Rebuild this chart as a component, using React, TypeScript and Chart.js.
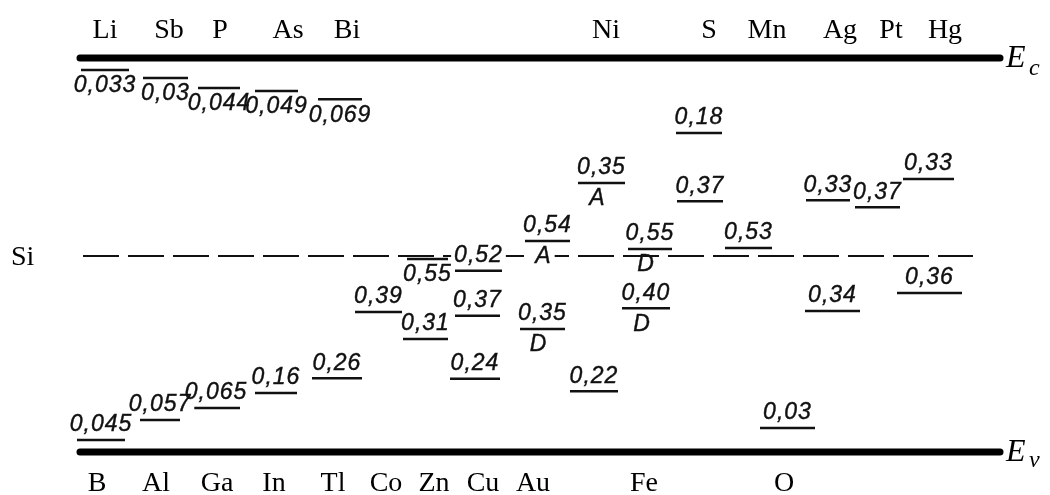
import React, { useEffect, useRef } from "react";
import { Chart, registerables } from "chart.js";

Chart.register(...registerables);

// Band edges (energy above Ev, eV) and the drawn extent along the impurity axis
const bandGap = 1.12;
const midGap = 0.557;
const bandStart = 8.0;
const bandEnd = 100.0;
const midStart = 8.3;
const midEnd = 97.3;

// Impurity names along the top (conduction band) and bottom (valence band)
const topElements = ["Li", "Sb", "P", "As", "Bi", "Ni", "S", "Mn", "Ag", "Pt", "Hg"];
const topElementX = [10.5, 16.9, 22.0, 28.8, 34.7, 60.6, 70.9, 76.7, 84.0, 89.1, 94.5];
const bottomElements = ["B", "Al", "Ga", "In", "Tl", "Co", "Zn", "Cu", "Au", "Fe", "O"];
const bottomElementX = [9.7, 15.6, 21.7, 27.4, 33.3, 38.6, 43.4, 48.3, 53.3, 64.4, 78.4];

// Impurity levels: label (eV), column span, drawn position above Ev, mark type, suffix
const levelLabels = [
  "0,033", "0,03", "0,044", "0,049", "0,069", "0,55",
  "0,045", "0,057", "0,065", "0,16", "0,26", "0,24", "0,22", "0,03",
  "0,39", "0,31", "0,37", "0,52", "0,54", "0,35", "0,35", "0,18", "0,37",
  "0,55", "0,40", "0,53", "0,33", "0,34", "0,37", "0,33", "0,36",
];
const levelStart = [
  8.1, 14.3, 19.8, 25.5, 31.8, 40.7,
  7.7, 14.0, 19.2, 25.5, 31.2, 45.0, 57.0, 76.0,
  35.5, 40.3, 45.5, 45.5, 52.5, 52.0, 57.8, 67.6, 67.7,
  62.8, 62.2, 72.5, 80.6, 80.5, 85.5, 90.3, 89.7,
];
const levelEnd = [
  12.9, 18.8, 24.0, 29.8, 36.2, 44.8,
  12.5, 18.0, 24.0, 29.7, 36.2, 50.0, 61.8, 81.5,
  40.2, 44.8, 50.0, 50.2, 57.0, 56.5, 62.5, 72.2, 72.3,
  67.2, 67.0, 77.2, 85.0, 86.0, 90.0, 95.4, 96.2,
];
const levelPosition = [
  1.086, 1.063, 1.035, 1.026, 1.003, 0.549,
  0.034, 0.091, 0.125, 0.168, 0.21, 0.208, 0.173, 0.068,
  0.398, 0.321, 0.387, 0.515, 0.6, 0.35, 0.765, 0.907, 0.713,
  0.577, 0.409, 0.58, 0.716, 0.401, 0.696, 0.776, 0.452,
];
const levelMark = [
  "over", "over", "over", "over", "over", "over",
  "under", "under", "under", "under", "under", "under", "under", "under",
  "under", "under", "under", "under", "under", "under", "under", "under", "under",
  "under", "under", "under", "under", "under", "under", "under", "under",
];
const levelSuffix = [
  "", "", "", "", "", "",
  "", "", "", "", "", "", "", "",
  "", "", "", "", "A", "D", "A", "", "",
  "D", "D", "", "", "", "", "", "",
];

const labelPlugin = {
  id: "levelLabels",
  afterDatasetsDraw(chart: any) {
    const { ctx, scales } = chart;
    const xs = scales.x;
    const ys = scales.y;
    const yEc = ys.getPixelForValue(bandGap);
    const yEv = ys.getPixelForValue(0);
    const yMid = ys.getPixelForValue(midGap);

    const items: { t: string; x: number; y: number }[] = [];
    levelLabels.forEach((t, i) => {
      const cx = xs.getPixelForValue((levelStart[i] + levelEnd[i]) / 2);
      const py = ys.getPixelForValue(levelPosition[i]);
      const ty = levelMark[i] === "over" ? py + 16 : py - 15;
      items.push({ t, x: cx, y: ty });
      if (levelSuffix[i]) items.push({ t: levelSuffix[i], x: cx - 4, y: py + 16 });
    });

    ctx.save();
    ctx.font = 'italic 23px "Liberation Sans"';
    (ctx as any).letterSpacing = "1px";
    ctx.textAlign = "center";
    ctx.textBaseline = "middle";
    // clear a little room behind each label first, then write them all
    ctx.fillStyle = "#ffffff";
    items.forEach(({ t, x, y }) => {
      const w = ctx.measureText(t).width;
      ctx.fillRect(x - w / 2 - 3, y - 8, w + 6, 16);
    });
    ctx.fillStyle = "#111111";
    ctx.strokeStyle = "#111111";
    ctx.lineWidth = 0.4;
    items.forEach(({ t, x, y }) => {
      ctx.fillText(t, x, y);
      ctx.strokeText(t, x, y);
    });
    (ctx as any).letterSpacing = "0px";

    // element names
    ctx.fillStyle = "#000000";
    ctx.font = '28px "Liberation Serif"';
    ctx.textBaseline = "alphabetic";
    topElements.forEach((t, i) => ctx.fillText(t, xs.getPixelForValue(topElementX[i]), yEc - 20));
    bottomElements.forEach((t, i) => ctx.fillText(t, xs.getPixelForValue(bottomElementX[i]), yEv + 39));
    ctx.textAlign = "left";
    ctx.fillText("Si", 11, yMid + 9);

    // band edge labels
    const xr = xs.getPixelForValue(bandEnd) + 6;
    ctx.font = 'italic 32px "Liberation Serif"';
    ctx.fillText("E", xr, yEc + 9);
    ctx.fillText("E", xr, yEv + 9);
    ctx.font = 'italic 24px "Liberation Serif"';
    ctx.fillText("c", xr + 23, yEc + 17);
    ctx.fillText("v", xr + 23, yEv + 15);
    ctx.restore();
  },
};

export default function App() {
  const ref = useRef<HTMLCanvasElement | null>(null);

  useEffect(() => {
    if (!ref.current) return;
    const datasets: any[] = [];
    datasets.push({
      data: [{ x: midStart, y: midGap }, { x: midEnd, y: midGap }],
      borderColor: "#111111",
      borderWidth: 2,
      borderDash: [36, 9],
    });
    [bandGap, 0].forEach((e) => {
      datasets.push({
        data: [{ x: bandStart, y: e }, { x: bandEnd, y: e }],
        borderColor: "#000000",
        borderWidth: 7,
        borderCapStyle: "round",
      });
    });
    levelLabels.forEach((_, i) => {
      datasets.push({
        data: [
          { x: levelStart[i], y: levelPosition[i] },
          { x: levelEnd[i], y: levelPosition[i] },
        ],
        borderColor: "#111111",
        borderWidth: 2.5,
      });
    });

    const chart = new Chart(ref.current, {
      type: "scatter",
      data: { datasets },
      options: {
        animation: false,
        responsive: false,
        showLine: true,
        layout: { padding: 0 },
        elements: { point: { radius: 0, hoverRadius: 0 }, line: { tension: 0 } },
        plugins: { legend: { display: false }, tooltip: { enabled: false } },
        events: [],
        scales: {
          x: { type: "linear", min: 0, max: 105, display: false },
          y: { type: "linear", min: -0.1222, max: 1.2849, display: false },
        },
      } as any,
      plugins: [labelPlugin],
    });
    return () => chart.destroy();
  }, []);

  return (
    <div style={{ position: "absolute", left: 0, top: 0, width: 1050, height: 495, background: "#fff" }}>
      <canvas ref={ref} width={1050} height={495} />
    </div>
  );
}
